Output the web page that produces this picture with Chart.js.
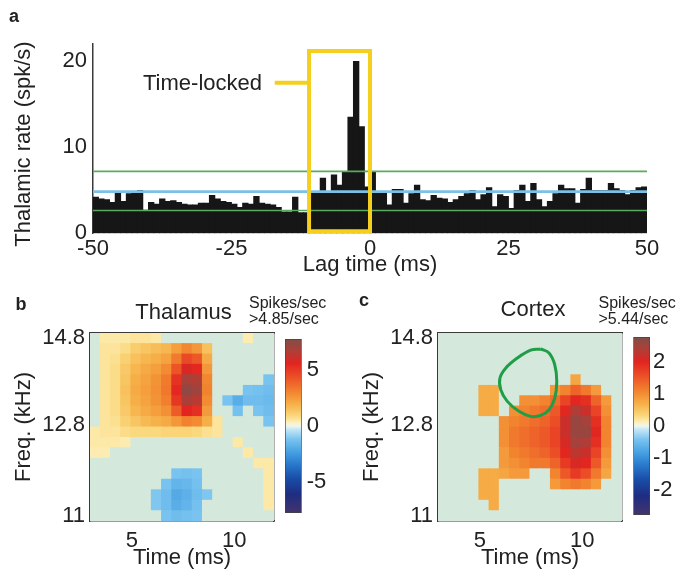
<!DOCTYPE html>
<html lang="en">
<head>
<meta charset="utf-8">
<title>Thalamic and cortical spike timing</title>
<script src="https://cdn.jsdelivr.net/npm/chart.js@4.4.1/dist/chart.umd.min.js"></script>
<style>
  html, body { margin: 0; padding: 0; background: #fff; }
  #figure { position: relative; width: 680px; height: 576px; overflow: hidden;
            font-family: "Liberation Sans", Arial, Helvetica, sans-serif; color: #222; }
  #figure canvas { position: absolute; }
  .txt { position: absolute; white-space: nowrap; line-height: 1; }
  .panel { font-weight: bold; font-size: 18px; }
  .big { font-size: 22px; }
  .units { font-size: 16px; line-height: 16px; }
</style>
</head>
<body>
<div id="figure">
  <canvas id="rateChart" width="680" height="280" style="left:0;top:0;width:680px;height:280px"></canvas>
  <canvas id="thalMap" width="285" height="296" style="left:0;top:280px;width:285px;height:296px"></canvas>
  <canvas id="thalBar" width="70" height="206" style="left:270px;top:323px;width:70px;height:206px"></canvas>
  <canvas id="ctxMap" width="290" height="296" style="left:340px;top:280px;width:290px;height:296px"></canvas>
  <canvas id="ctxBar" width="60" height="206" style="left:620px;top:323px;width:60px;height:206px"></canvas>

  <div class="txt panel" style="left:9px;top:6.5px">a</div>
  <div class="txt big" style="left:22.5px;top:144px;transform:translate(-50%,-50%) rotate(-90deg)">Thalamic rate (spk/s)</div>
  <div class="txt big" style="left:143px;top:72px">Time-locked</div>

  <div class="txt panel" style="left:15.5px;top:294.8px">b</div>
  <div class="txt big" style="left:183.5px;top:301.4px;transform:translateX(-50%)">Thalamus</div>
  <div class="txt units" style="left:249px;top:294.5px">Spikes/sec<br>&gt;4.85/sec</div>

  <div class="txt panel" style="left:359px;top:290.8px">c</div>
  <div class="txt big" style="left:533px;top:298.4px;transform:translateX(-50%)">Cortex</div>
  <div class="txt units" style="left:598.5px;top:294.5px">Spikes/sec<br>&gt;5.44/sec</div>
</div>

<script>
// ---------------- panel a: thalamic rate around cortical spikes ----------------
// left edges of the 1 ms lag bins
const lagBinsMs = [
  -50, -49, -48, -47, -46, -45, -44, -43, -42, -41,
  -40, -39, -38, -37, -36, -35, -34, -33, -32, -31,
  -30, -29, -28, -27, -26, -25, -24, -23, -22, -21,
  -20, -19, -18, -17, -16, -15, -14, -13, -12, -11,
  -10, -9, -8, -7, -6, -5, -4, -3, -2, -1,
  0, 1, 2, 3, 4, 5, 6, 7, 8, 9,
  10, 11, 12, 13, 14, 15, 16, 17, 18, 19,
  20, 21, 22, 23, 24, 25, 26, 27, 28, 29,
  30, 31, 32, 33, 34, 35, 36, 37, 38, 39,
  40, 41, 42, 43, 44, 45, 46, 47, 48, 49
];
const binWidthMs = 1;
// thalamic firing rate (spk/s) in each lag bin
const thalamicRate = [
  4.2, 4.0, 3.9, 3.6, 4.7, 3.7, 4.6, 4.7, 5.0, 2.7,
  3.6, 3.4, 4.0, 3.7, 3.8, 3.6, 3.4, 3.3, 3.3, 3.5,
  3.5, 4.4, 4.0, 3.7, 3.6, 3.4, 3.0, 3.5, 3.4, 4.3,
  3.5, 3.4, 3.3, 3.0, 2.5, 2.5, 4.2, 2.4, 2.4, 4.8,
  4.8, 6.4, 4.8, 6.8, 5.6, 7.2, 13.5, 20.0, 12.4, 5.4,
  7.1, 4.8, 4.8, 3.3, 5.1, 5.1, 3.5, 4.6, 5.6, 3.9,
  3.8, 4.4, 4.1, 4.0, 3.6, 3.9, 4.3, 4.6, 5.0, 3.9,
  4.5, 5.3, 3.1, 4.5, 4.3, 2.9, 5.0, 5.6, 3.7, 5.8,
  3.9, 3.1, 3.7, 4.6, 5.6, 5.2, 5.2, 3.5, 5.1, 6.4,
  5.0, 5.0, 5.0, 5.8, 5.2, 5.0, 4.5, 5.0, 5.3, 5.4
];
const meanRate = 4.85;          // mean thalamic rate (blue)
const bandUpper = 7.2;          // significance band (green)
const bandLower = 2.65;
const lockedWindowMs = [-11, 0];   // time-locked window
const lockedBoxRate = [0.25, 21.2];
const calloutLagMs = [-17.2, -11];
const calloutRate = 17.5;
const lagTicks = [-50, -25, 0, 25, 50];
const rateTicks = [0, 10, 20];
const rateMax = 22;

// ---------------- panels b, c: spike-triggered tone maps ----------------
const timeMs = [3.2, 3.7, 4.2, 4.7, 5.2, 5.7, 6.2, 6.7, 7.2, 7.7, 8.2, 8.7, 9.2, 9.7, 10.2, 10.7, 11.2, 11.7];
// tone frequencies, low to high (log spaced)
const freqKHz = [11.0, 11.19, 11.39, 11.59, 11.8, 12.0, 12.22, 12.43, 12.65, 12.87, 13.1, 13.33, 13.56, 13.8, 14.05, 14.29, 14.54, 14.8];
const timeTicks = [5, 10];
const freqTicks = [11, 12.8, 14.8];
const freqTickLabels = ['11', '12.8', '14.8'];

// thalamus, spikes/sec above 4.85; rows from 14.8 kHz (top) down to 11 kHz
const thalamusMap = [
  [0, .5, .5, .5, .6, .6, .5, 0, 0, 0, 0, 0, 0, 0, 0, .4, 0, 0],
  [0, .6, .6, .8, 1.2, 1.4, 1.6, 1.8, 2.4, 3.0, 2.6, 1.5, 0, 0, 0, 0, 0, 0],
  [0, .6, .7, 1.1, 1.5, 1.8, 2.0, 2.3, 3.3, 4.6, 4.2, 2.1, 0, 0, 0, 0, 0, 0],
  [0, .6, .8, 1.3, 1.8, 2.1, 2.4, 2.9, 4.3, 5.8, 5.5, 2.6, 0, 0, 0, 0, 0, 0],
  [0, .6, .8, 1.4, 2.0, 2.3, 2.7, 3.3, 5.2, 6.9, 6.7, 3.0, 0, 0, 0, 0, 0, -1.2],
  [0, .6, .8, 1.5, 2.1, 2.4, 2.8, 3.4, 5.5, 7.4, 7.1, 3.1, 0, 0, 0, -1.2, -1.3, -1.4],
  [0, .6, .8, 1.4, 2.0, 2.3, 2.7, 3.2, 5.1, 6.8, 6.5, 2.9, 0, -1.2, -1.9, -1.4, -1.4, -1.5],
  [0, .6, .8, 1.3, 1.8, 2.1, 2.4, 2.8, 4.1, 5.6, 5.3, 2.5, 0, 0, -1.3, 0, -1.2, -1.4],
  [0, .6, .7, 1.1, 1.4, 1.7, 1.9, 2.1, 2.6, 3.1, 2.9, 2.0, .6, 0, 0, 0, 0, -1.2],
  [.5, .6, .6, .8, .9, .9, .9, 1.0, 1.0, 1.0, .9, .7, .6, 0, 0, 0, 0, 0],
  [.5, .5, .5, .4, 0, 0, 0, 0, 0, 0, 0, 0, 0, 0, .5, 0, 0, 0],
  [.4, .4, 0, 0, 0, 0, 0, 0, 0, 0, 0, 0, 0, 0, 0, .5, 0, 0],
  [0, 0, 0, 0, 0, 0, 0, 0, 0, 0, 0, 0, 0, 0, 0, 0, .5, .5],
  [0, 0, 0, 0, 0, 0, 0, 0, -1.2, -1.3, -1.2, 0, 0, 0, 0, 0, 0, .5],
  [0, 0, 0, 0, 0, 0, 0, -1.2, -1.7, -1.6, -1.3, 0, 0, 0, 0, 0, 0, .5],
  [0, 0, 0, 0, 0, 0, -1.1, -1.4, -2.0, -1.8, -1.4, -1.1, 0, 0, 0, 0, 0, .5],
  [0, 0, 0, 0, 0, 0, -1.1, -1.4, -1.9, -1.7, -1.3, 0, 0, 0, 0, 0, 0, .5],
  [0, 0, 0, 0, 0, 0, 0, -1.2, -1.4, -1.3, -1.2, 0, 0, 0, 0, 0, 0, 0]
];
// cortex, spikes/sec above 5.44; rows from 14.8 kHz (top) down to 11 kHz
const cortexMap = [
  [0, 0, 0, 0, 0, 0, 0, 0, 0, 0, 0, 0, 0, 0, 0, 0, 0, 0],
  [0, 0, 0, 0, 0, 0, 0, 0, 0, 0, 0, 0, 0, 0, 0, 0, 0, 0],
  [0, 0, 0, 0, 0, 0, 0, 0, 0, 0, 0, 0, 0, 0, 0, 0, 0, 0],
  [0, 0, 0, 0, 0, 0, 0, 0, 0, 0, 0, 0, 0, 0, 0, 0, 0, 0],
  [0, 0, 0, 0, 0, 0, 0, 0, 0, 0, 0, 0, 0, .8, 0, 0, 0, 0],
  [0, 0, 0, 0, .75, .75, 0, 0, 0, 0, 0, .9, 1.1, 1.4, 1.2, .9, 0, 0],
  [0, 0, 0, 0, .75, .75, 0, 0, 1.0, 1.0, 1.1, 1.3, 1.7, 2.0, 1.9, 1.4, .9, 0],
  [0, 0, 0, 0, .75, .75, 0, 1.0, 1.1, 1.2, 1.3, 1.5, 2.0, 2.4, 2.2, 1.7, 1.0, 0],
  [0, 0, 0, 0, 0, 0, 1.0, 1.1, 1.2, 1.3, 1.4, 1.6, 2.2, 2.6, 2.5, 1.9, 1.1, 0],
  [0, 0, 0, 0, 0, 0, 1.0, 1.2, 1.3, 1.4, 1.5, 1.7, 2.2, 2.6, 2.6, 2.0, 1.1, 0],
  [0, 0, 0, 0, 0, 0, 1.0, 1.2, 1.3, 1.4, 1.5, 1.7, 2.1, 2.5, 2.4, 1.9, 1.1, 0],
  [0, 0, 0, 0, 0, 0, .9, 1.1, 1.2, 1.3, 1.4, 1.6, 2.0, 2.3, 2.2, 1.7, 1.0, 0],
  [0, 0, 0, 0, 0, 0, .9, 1.0, 1.1, 1.2, 1.2, 1.4, 1.8, 2.1, 2.0, 1.5, .9, 0],
  [0, 0, 0, 0, .75, .75, .8, .9, .9, 0, 0, 1.1, 1.5, 1.8, 1.6, 1.2, .8, 0],
  [0, 0, 0, 0, .75, .75, 0, 0, 0, 0, 0, .9, 1.1, 1.2, 1.1, .9, 0, 0],
  [0, 0, 0, 0, .75, .75, 0, 0, 0, 0, 0, 0, 0, 0, 0, 0, 0, 0],
  [0, 0, 0, 0, 0, .75, 0, 0, 0, 0, 0, 0, 0, 0, 0, 0, 0, 0],
  [0, 0, 0, 0, 0, 0, 0, 0, 0, 0, 0, 0, 0, 0, 0, 0, 0, 0]
];
// outline of the thalamic time-locked receptive field, overlaid on the cortex map
const contourTimeMs = [7.97, 8.38, 8.66, 8.76, 8.66, 8.38, 7.97, 7.48, 6.91, 6.34, 6.02, 5.98, 6.26, 6.83, 7.48, 7.97];
const contourFreqKHz = [14.54, 14.44, 14.16, 13.77, 13.39, 13.13, 13.01, 12.99, 13.10, 13.32, 13.58, 13.85, 14.08, 14.32, 14.51, 14.54];

const thalamusMax = 7.8;
const thalamusBarTicks = [-5, 0, 5];
const cortexMax = 2.8;
const cortexBarTicks = [-2, -1, 0, 1, 2];

// ---------------- styling ----------------
const INK = '#222';
const AXIS = '#3a3a3a';
const YELLOW = '#f4cf1d';
const GREEN = '#5aab5e';
const BLUE = '#7cc0e6';
const BAR = '#161616';
const BELOW = '#d4e9dc';      // cells below threshold
const CONTOUR = '#1f9e47';
const tickFont = { size: 22, lineHeight: 1 };
const noGrid = { display: false, drawTicks: false };

Chart.defaults.font.family = "'Liberation Sans', Arial, Helvetica, sans-serif";
Chart.defaults.color = INK;
Chart.defaults.animation = false;
Chart.defaults.events = [];
Chart.defaults.plugins.legend.display = false;
Chart.defaults.plugins.tooltip.enabled = false;

// diverging map: navy - blue - cyan - pale - yellow - orange - red - brown
const cmapStops = [
  [-1.00, [66, 52, 108]],
  [-0.78, [30, 45, 130]],
  [-0.60, [25, 78, 168]],
  [-0.45, [40, 118, 202]],
  [-0.30, [70, 160, 226]],
  [-0.15, [122, 196, 240]],
  [-0.04, [196, 230, 245]],
  [0.00, [238, 246, 242]],
  [0.04, [253, 240, 186]],
  [0.12, [250, 214, 122]],
  [0.25, [246, 176, 72]],
  [0.40, [242, 130, 46]],
  [0.55, [236, 84, 40]],
  [0.72, [226, 36, 32]],
  [0.86, [175, 62, 55]],
  [1.00, [128, 78, 72]]
];
function cmap(n) {
  n = Math.max(-1, Math.min(1, n));
  for (let i = 1; i < cmapStops.length; i++) {
    const [p1, c1] = cmapStops[i];
    if (n <= p1) {
      const [p0, c0] = cmapStops[i - 1];
      const f = (n - p0) / (p1 - p0);
      const c = c0.map((v, k) => Math.round(v + (c1[k] - v) * f));
      return `rgb(${c[0]},${c[1]},${c[2]})`;
    }
  }
  const c = cmapStops[cmapStops.length - 1][1];
  return `rgb(${c[0]},${c[1]},${c[2]})`;
}
function cellColour(v, vmax) {
  if (v === undefined || v === 0) return BELOW;
  return cmap(v / vmax);
}

const setTicks = values => scale => { scale.ticks = values.map(v => ({ value: v })); };

// boundaries half-way between neighbouring centres (geometric on a log axis)
function cellEdges(centres, log) {
  const mid = log ? (a, b) => Math.sqrt(a * b) : (a, b) => (a + b) / 2;
  const n = centres.length;
  const edges = [];
  edges.push(log ? centres[0] * centres[0] / mid(centres[0], centres[1])
                 : 2 * centres[0] - mid(centres[0], centres[1]));
  for (let i = 1; i < n; i++) edges.push(mid(centres[i - 1], centres[i]));
  edges.push(log ? centres[n - 1] * centres[n - 1] / mid(centres[n - 2], centres[n - 1])
                 : 2 * centres[n - 1] - mid(centres[n - 2], centres[n - 1]));
  return edges;
}
const tEdges = cellEdges(timeMs, false);
const fEdges = cellEdges(freqKHz, true);

function cells(matrix) {
  const out = [];
  const nRows = freqKHz.length;
  matrix.forEach((row, r) => {
    const fi = nRows - 1 - r;
    row.forEach((v, c) => out.push({ x: timeMs[c], y: [fEdges[fi], fEdges[fi + 1]], v }));
  });
  return out;
}

// ---------------- panel a ----------------
const flat = v => [{ x: lagTicks[0], y: v }, { x: lagTicks[lagTicks.length - 1], y: v }];
const [w0, w1] = lockedWindowMs;
const [b0, b1] = lockedBoxRate;
const lineStyle = (color, width, order) => ({
  type: 'line', borderColor: color, borderWidth: width, pointRadius: 0,
  fill: false, tension: 0, order, xAxisID: 'x', yAxisID: 'y'
});

new Chart(document.getElementById('rateChart'), {
  type: 'bar',
  data: {
    datasets: [
      Object.assign(lineStyle(YELLOW, 4, 0), {
        data: [{ x: calloutLagMs[0], y: calloutRate }, { x: calloutLagMs[1], y: calloutRate }]
      }),
      Object.assign(lineStyle(YELLOW, 4, 0), {
        data: [{ x: w0, y: b0 }, { x: w0, y: b1 }, { x: w1, y: b1 }, { x: w1, y: b0 }, { x: w0, y: b0 }],
        borderJoinStyle: 'miter', borderCapStyle: 'square'
      }),
      Object.assign(lineStyle(GREEN, 1.6, 1), { data: flat(bandUpper) }),
      Object.assign(lineStyle(GREEN, 1.6, 1), { data: flat(bandLower) }),
      Object.assign(lineStyle(BLUE, 2.6, 1), { data: flat(meanRate) }),
      {
        type: 'bar', order: 5, xAxisID: 'x', yAxisID: 'y',
        data: lagBinsMs.map((t, i) => ({ x: t + binWidthMs / 2, y: thalamicRate[i] })),
        backgroundColor: BAR, borderWidth: 0, barPercentage: 1, categoryPercentage: 1, inflateAmount: 0.4
      }
    ]
  },
  options: {
    responsive: false, devicePixelRatio: 1,
    layout: { padding: { left: 0, right: 33, top: 44.1, bottom: 0 } },
    scales: {
      x: {
        type: 'linear', min: lagTicks[0], max: lagTicks[lagTicks.length - 1], offset: false,
        grid: noGrid, border: { display: false },
        afterBuildTicks: setTicks(lagTicks),
        ticks: { font: tickFont, padding: 4.5, maxRotation: 0, autoSkip: false },
        title: { display: true, text: 'Lag time (ms)', font: tickFont, padding: { top: 0, bottom: 4 } },
        afterFit: s => { s.height = 46.7; }
      },
      y: {
        type: 'linear', min: 0, max: rateMax,
        grid: noGrid, border: { display: true, color: AXIS, width: 1.5 },
        afterBuildTicks: setTicks(rateTicks),
        ticks: { font: tickFont, padding: 6 },
        afterFit: s => { s.width = 93; }
      }
    }
  }
});

// ---------------- panels b, c ----------------
function boxEdge(position) {
  return {
    type: 'linear', position, display: true,
    grid: noGrid, ticks: { display: false },
    border: { display: true, color: AXIS, width: 1.4 },
    afterFit: s => { if (position === 'top') s.height = 0; else s.width = 0; }
  };
}

function heatmap(canvasId, matrix, vmax, geom, extra) {
  return new Chart(document.getElementById(canvasId), {
    type: 'bar',
    data: {
      datasets: extra.concat([{
        type: 'bar', order: 2, xAxisID: 'x', yAxisID: 'y',
        data: cells(matrix),
        backgroundColor: ctx => cellColour(ctx.raw && ctx.raw.v, vmax),
        borderWidth: 0, barPercentage: 1, categoryPercentage: 1, inflateAmount: 0.5
      }])
    },
    options: {
      responsive: false, devicePixelRatio: 1,
      layout: { padding: { left: 0, top: geom.top, right: geom.right, bottom: 0 } },
      scales: {
        x: {
          type: 'linear', min: tEdges[0], max: tEdges[tEdges.length - 1], offset: false,
          grid: noGrid, border: { display: true, color: AXIS, width: 1.4 },
          afterBuildTicks: setTicks(timeTicks),
          ticks: { font: tickFont, padding: 8.5, maxRotation: 0, autoSkip: false },
          title: { display: true, text: 'Time (ms)', font: tickFont, padding: { top: 0, bottom: 7 } },
          afterFit: s => { s.height = geom.xh; }
        },
        y: {
          type: 'logarithmic', min: fEdges[0], max: fEdges[fEdges.length - 1],
          grid: noGrid, border: { display: true, color: AXIS, width: 1.4 },
          afterBuildTicks: setTicks(freqTicks),
          ticks: { font: tickFont, padding: 5, autoSkip: false, callback: (v, i) => freqTickLabels[i] },
          title: { display: true, text: 'Freq. (kHz)', font: tickFont, padding: { top: geom.ytp, bottom: 0 } },
          afterFit: s => { s.width = geom.yw; }
        },
        x2: boxEdge('top'),
        y2: boxEdge('right')
      }
    }
  });
}

function colourBar(canvasId, vmax, ticks, geom) {
  return new Chart(document.getElementById(canvasId), {
    type: 'bar',
    data: {
      labels: [''],
      datasets: [{
        data: [[-vmax, vmax]],
        backgroundColor: ctx => {
          const area = ctx.chart.chartArea;
          if (!area) return BELOW;
          const g = ctx.chart.ctx.createLinearGradient(0, area.bottom, 0, area.top);
          cmapStops.forEach(([p]) => g.addColorStop((p + 1) / 2, cmap(p)));
          return g;
        },
        borderColor: '#444', borderWidth: 1, borderSkipped: false,
        barPercentage: 1, categoryPercentage: 1
      }]
    },
    options: {
      responsive: false, devicePixelRatio: 1,
      layout: { padding: { left: geom.left, top: geom.top, bottom: geom.bottom, right: 0 } },
      scales: {
        x: { display: false },
        y: {
          position: 'right', min: -vmax, max: vmax,
          grid: noGrid, border: { display: false },
          afterBuildTicks: setTicks(ticks),
          ticks: { font: tickFont, padding: geom.pad },
          afterFit: s => { s.width = geom.yw; }
        }
      }
    }
  });
}

heatmap('thalMap', thalamusMap, thalamusMax, { top: 53, right: 11, xh: 55, yw: 90, ytp: 12.8 }, []);
colourBar('thalBar', thalamusMax, thalamusBarTicks, { left: 15, top: 10, bottom: 8, yw: 38.3, pad: 5 });

heatmap('ctxMap', cortexMap, cortexMax, { top: 53, right: 8, xh: 55, yw: 98, ytp: 21 }, [{
  type: 'line', order: 0, xAxisID: 'x', yAxisID: 'y',
  data: contourTimeMs.map((t, i) => ({ x: t, y: contourFreqKHz[i] })),
  borderColor: CONTOUR, borderWidth: 3, pointRadius: 0, tension: 0.4, fill: false
}]);
colourBar('ctxBar', cortexMax, cortexBarTicks, { left: 13.3, top: 10, bottom: 8, yw: 30, pad: 3 });
</script>
</body>
</html>
